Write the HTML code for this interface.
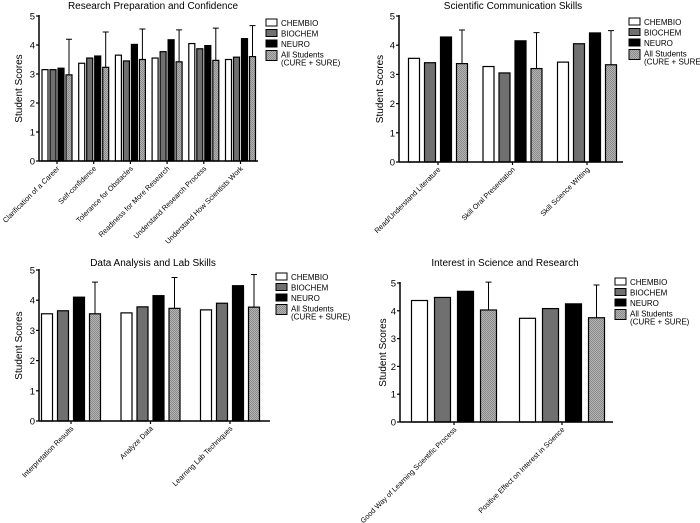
<!DOCTYPE html>
<html><head><meta charset="utf-8"><style>
html,body{margin:0;padding:0;background:#fff;}
svg{display:block;font-family:"Liberation Sans",Arial,sans-serif;}
</style></head><body>
<svg id="c" width="700" height="523" viewBox="0 0 700 523" xmlns="http://www.w3.org/2000/svg">
<defs>
<pattern id="hatch" width="2" height="2" patternUnits="userSpaceOnUse">
<rect width="2" height="2" fill="#b4b4b4"/><rect width="1" height="1" fill="#8a8a8a"/><rect x="1" y="1" width="1" height="1" fill="#8a8a8a"/>
</pattern>
</defs>
</svg>
<script>
const seriesNames=["CHEMBIO","BIOCHEM","NEURO","All Students"];
const p1Cats=["Clarification of a Career","Self-confidence","Tolerance for Obstacles","Readiness for More Research","Understand Research Process","Understand How Scientists Work"];
const p1Chembio=[3.15,3.37,3.65,3.55,4.05,3.5];
const p1Biochem=[3.15,3.55,3.45,3.77,3.87,3.58];
const p1Neuro=[3.2,3.62,4.02,4.18,3.98,4.22];
const p1All=[2.97,3.23,3.5,3.42,3.47,3.6];
const p1Err=[4.2,4.45,4.55,4.52,4.58,4.67];
const p2Cats=["Read/Understand Literature","Skill Oral Presentation","Skill Science Writing"];
const p2Chembio=[3.55,3.27,3.42];
const p2Biochem=[3.4,3.05,4.05];
const p2Neuro=[4.28,4.15,4.42];
const p2All=[3.37,3.2,3.33];
const p2Err=[4.52,4.43,4.5];
const p3Cats=["Interpretation Results","Analyze Data","Learning Lab Techniques"];
const p3Chembio=[3.55,3.58,3.68];
const p3Biochem=[3.65,3.78,3.9];
const p3Neuro=[4.1,4.15,4.48];
const p3All=[3.55,3.73,3.77];
const p3Err=[4.6,4.75,4.85];
const p4Cats=["Good Way of Learning Scientific Process","Positive Effect on Interest in Science"];
const p4Chembio=[4.37,3.73];
const p4Biochem=[4.48,4.08];
const p4Neuro=[4.7,4.25];
const p4All=[4.03,3.75];
const p4Err=[5.03,4.93];
const yTicks=[0,1,2,3,4,5];

const svg=document.getElementById('c');
const NS="http://www.w3.org/2000/svg";
function mk(tag,attrs,parent){const e=document.createElementNS(NS,tag);for(const k in attrs)e.setAttribute(k,attrs[k]);(parent||svg).appendChild(e);return e;}
const fills=["#ffffff","#707070","#000000","url(#hatch)"];

function panel(o){
  const g=mk('g',{});
  
  
  const y=v=>o.y0-(o.y0-o.y5)*v/5;
  const cx=i=>o.c0+i*o.gs;
  const t=mk('text',{x:o.tx,y:o.ty,'text-anchor':'middle','font-size':10},g);
  t.textContent=o.title;
  
  
  const yl=mk('text',{x:0,y:0,'text-anchor':'middle','font-size':10,transform:`translate(${o.ylx},${(o.y0+o.y5)/2}) rotate(-90)`},g);
  yl.textContent="Student Scores";
  
  
  const vals=[o.a,o.b,o.c,o.d];
  o.cats.forEach((cat,i)=>{
    vals.forEach((arr,s)=>{
      const x=cx(i)+(s-1.5)*o.st-o.w/2;
      const r=mk('rect',{x:x,y:y(arr[i]),width:o.w,height:o.y0-y(arr[i]),fill:fills[s],stroke:'#000','stroke-width':1.2},g);
      
      
    });
    const ex=cx(i)+1.5*o.st;
    const e=mk('path',{d:`M${ex},${y(o.d[i])}V${y(o.err[i])}M${ex-3},${y(o.err[i])}H${ex+3}`,stroke:'#000','stroke-width':1,fill:'none'},g);
    
    
    mk('line',{x1:cx(i),x2:cx(i),y1:o.y0,y2:o.y0+3,stroke:'#000','stroke-width':1.2},g);
    const lt=mk('text',{x:0,y:0,'text-anchor':'end','font-size':7.3,transform:`translate(${cx(i)+3},${o.y0+8}) rotate(-45)`},g);
    lt.textContent=cat;
    
    
  });
  mk('line',{x1:o.ax,x2:o.ax,y1:o.y5-1,y2:o.y0,stroke:'#000','stroke-width':1.5},g);
  mk('line',{x1:o.ax,x2:o.xe,y1:o.y0,y2:o.y0,stroke:'#000','stroke-width':1.5},g);
  yTicks.forEach(v=>{
    mk('line',{x1:o.ax-3,x2:o.ax,y1:y(v),y2:y(v),stroke:'#000','stroke-width':1.2},g);
    const tt=mk('text',{x:o.ax-4,y:y(v)+3.5,'text-anchor':'end','font-size':9.5},g);
    tt.textContent=v;
    
    
  });
  const lg=mk('g',{},g);
  
  
  const ly=[0,10.5,21,31.5];
  seriesNames.forEach((n,s)=>{
    const h=s==3?10:7;
    mk('rect',{x:o.lx,y:o.ly+ly[s],width:11,height:h,fill:fills[s],stroke:'#000','stroke-width':1},lg);
    const lt=mk('text',{x:o.lx+15,y:o.ly+ly[s]+7,'font-size':8},lg);
    lt.textContent=n;
    
    
    if(s==3){const l2=mk('text',{x:o.lx+15,y:o.ly+ly[s]+15,'font-size':8},lg);l2.textContent="(CURE + SURE)";}
  });
}
panel({name:'research-preparation-panel',title:'Research Preparation and Confidence',tx:153,ty:9,ylx:22,ax:39,xe:258,y0:161,y5:16,c0:57,gs:36.7,w:6,st:8,cats:p1Cats,a:p1Chembio,b:p1Biochem,c:p1Neuro,d:p1All,err:p1Err,lx:266,ly:19});
panel({name:'communication-skills-panel',title:'Scientific Communication Skills',tx:513,ty:9,ylx:383,ax:399,xe:623,y0:162,y5:16,c0:438,gs:74.5,w:11,st:16,cats:p2Cats,a:p2Chembio,b:p2Biochem,c:p2Neuro,d:p2All,err:p2Err,lx:629,ly:18});
panel({name:'data-analysis-panel',title:'Data Analysis and Lab Skills',tx:153,ty:266,ylx:22,ax:39,xe:270,y0:421,y5:270,c0:71,gs:79.5,w:11,st:16,cats:p3Cats,a:p3Chembio,b:p3Biochem,c:p3Neuro,d:p3All,err:p3Err,lx:276,ly:273});
panel({name:'interest-science-panel',title:'Interest in Science and Research',tx:505,ty:266,ylx:386,ax:400,xe:613,y0:422,y5:283,c0:454,gs:108,w:16,st:23,cats:p4Cats,a:p4Chembio,b:p4Biochem,c:p4Neuro,d:p4All,err:p4Err,lx:615,ly:278});
</script>
</body></html>
